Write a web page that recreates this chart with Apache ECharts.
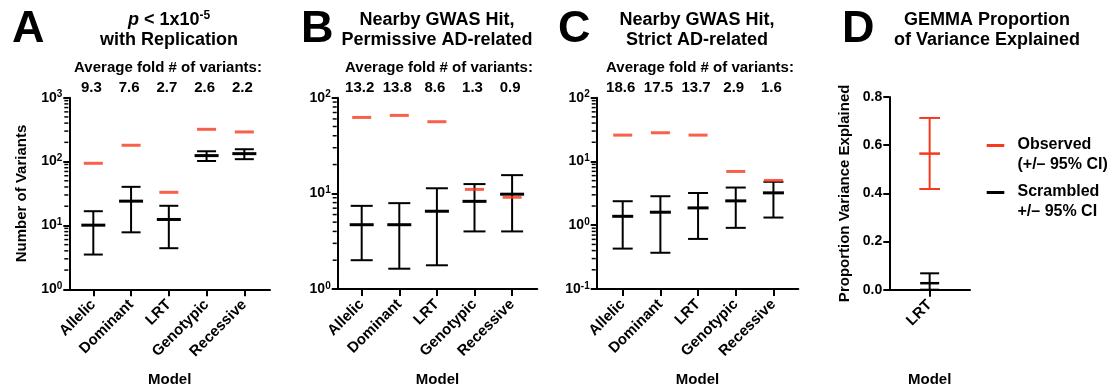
<!DOCTYPE html>
<html>
<head>
<meta charset="utf-8">
<script src="https://cdn.jsdelivr.net/npm/echarts@6/dist/echarts.min.js"></script>
<style>
  html, body { margin: 0; padding: 0; background: #fff; }
  #chart { width: 1109px; height: 389px; }
</style>
</head>
<body>
<div id="chart"></div>
<script>
// ---- data ----
const models = ['Allelic', 'Dominant', 'LRT', 'Genotypic', 'Recessive'];
const gemmaModels = ['LRT'];

// A: p < 1x10^-5 with replication
const observedA = [94, 180, 33, 320, 291];
const scrambledMeanA = [10.1, 24, 12.4, 124, 133];
const scrambledLowA = [3.5, 7.8, 4.4, 102, 109];
const scrambledHighA = [16.7, 40.2, 20.3, 145, 156];
const foldA = ['9.3', '7.6', '2.7', '2.6', '2.2'];

// B: nearby GWAS hit, permissive AD-related
const observedB = [62.2, 65.3, 56.1, 11.0, 9.1];
const scrambledMeanB = [4.7, 4.7, 6.5, 8.25, 9.8];
const scrambledLowB = [2.0, 1.63, 1.77, 4.0, 4.0];
const scrambledHighB = [7.4, 7.9, 11.3, 12.5, 15.5];
const foldB = ['13.2', '13.8', '8.6', '1.3', '0.9'];

// C: nearby GWAS hit, strict AD-related
const observedC = [25.9, 28.2, 25.9, 6.97, 5.04];
const scrambledMeanC = [1.38, 1.6, 1.87, 2.41, 3.22];
const scrambledLowC = [0.43, 0.37, 0.61, 0.91, 1.32];
const scrambledHighC = [2.38, 2.85, 3.2, 3.9, 4.8];
const foldC = ['18.6', '17.5', '13.7', '2.9', '1.6'];

// D: GEMMA proportion of variance explained
const observedMeanD = [0.565];
const observedLowD = [0.418];
const observedHighD = [0.713];
const scrambledMeanD = [0.027];
const scrambledLowD = [0];
const scrambledHighD = [0.068];

// axis ranges
const logRangeA = [1, 1000];
const logRangeB = [1, 100];
const logRangeC = [0.1, 100];
const pveRangeD = [0, 0.8];
const pveStepD = 0.2;

// ---- styling ----
const RED = '#F53A1F';
const BLACK = '#000';
const FONT = '"Liberation Sans", Arial, Helvetica, sans-serif';

const grids = [
  { left: 69.3, top: 97.7, width: 200.7, height: 191.6 },
  { left: 337.7, top: 97.7, width: 199.6, height: 191.3 },
  { left: 596.7, top: 97.7, width: 201.6, height: 191.3 },
  { left: 889.3, top: 97, width: 80.7, height: 192.7 }
];
const xRanges = [[-0.636, 4.68], [-0.638, 4.67], [-0.69, 4.66], [-1, 1]];

const supRich = {
  b: { fontSize: 14, fontWeight: 'bold', fontFamily: FONT, color: BLACK, lineHeight: 16 },
  s: { fontSize: 10, fontWeight: 'bold', fontFamily: FONT, color: BLACK, lineHeight: 10, verticalAlign: 'top' }
};

function xAxisFor(i, cats) {
  const idx = cats.map((_, k) => k);
  return {
    type: 'value', gridIndex: i, min: xRanges[i][0], max: xRanges[i][1],
    axisLine: { show: true, onZero: false, lineStyle: { color: BLACK, width: 2 } },
    axisTick: { show: true, customValues: idx, length: 7, lineStyle: { color: BLACK, width: 2 } },
    axisLabel: {
      customValues: idx, formatter: v => cats[Math.round(v)] || '',
      rotate: 45, margin: 13, fontSize: 15, fontWeight: 'bold', color: BLACK, fontFamily: FONT
    },
    splitLine: { show: false },
    name: 'Model', nameLocation: 'middle', nameGap: 83,
    nameTextStyle: { fontSize: 15, fontWeight: 'bold', color: BLACK, fontFamily: FONT }
  };
}

function logYAxisFor(i, range, name) {
  return {
    type: 'log', logBase: 10, gridIndex: i, min: range[0], max: range[1],
    axisLine: { show: true, onZero: false, lineStyle: { color: BLACK, width: 2 } },
    axisTick: { show: true, length: 6, lineStyle: { color: BLACK, width: 2 } },
    axisLabel: {
      margin: 7,
      formatter: v => '{b|10}{s|' + Math.round(Math.log10(v)) + '}',
      rich: supRich
    },
    splitLine: { show: false },
    name: name || '', nameLocation: 'middle', nameGap: 40, nameRotate: 90,
    nameTextStyle: { fontSize: 15, fontWeight: 'bold', color: BLACK, fontFamily: FONT }
  };
}

// error bar: vertical whisker, two caps, centre line
function errorBar(color, capW, meanW, meanLW) {
  return function (params, api) {
    const x = api.value(0);
    const pm = api.coord([x, api.value(1)]);
    const pl = api.coord([x, api.value(2)]);
    const ph = api.coord([x, api.value(3)]);
    const st = { stroke: color, lineWidth: 2 };
    return {
      type: 'group',
      children: [
        { type: 'line', shape: { x1: pl[0], y1: pl[1], x2: ph[0], y2: ph[1] }, style: st },
        { type: 'line', shape: { x1: pl[0] - capW / 2, y1: pl[1], x2: pl[0] + capW / 2, y2: pl[1] }, style: st },
        { type: 'line', shape: { x1: ph[0] - capW / 2, y1: ph[1], x2: ph[0] + capW / 2, y2: ph[1] }, style: st },
        { type: 'line', shape: { x1: pm[0] - meanW / 2, y1: pm[1], x2: pm[0] + meanW / 2, y2: pm[1] },
          style: { stroke: color, lineWidth: meanLW } }
      ]
    };
  };
}

function errorSeries(i, name, color, mean, low, high, capW, meanW, meanLW) {
  return {
    type: 'custom', name, xAxisIndex: i, yAxisIndex: i, clip: false, silent: true, z: 3,
    renderItem: errorBar(color, capW, meanW, meanLW),
    data: mean.map((m, k) => [k, m, low[k], high[k]])
  };
}

function observedSeries(i, values) {
  return {
    type: 'scatter', name: 'Observed', xAxisIndex: i, yAxisIndex: i, silent: true, z: 5,
    symbol: 'rect', symbolSize: [19, 3], itemStyle: { color: RED },
    data: values.map((v, k) => [k, v])
  };
}

// minor ticks at 2..9 x 10^k on the log axes
function minorTickSeries(i, range) {
  const vals = [];
  for (let e = Math.round(Math.log10(range[0])); e < Math.round(Math.log10(range[1])); e++) {
    for (let m = 2; m <= 9; m++) vals.push([xRanges[i][0], m * Math.pow(10, e)]);
  }
  return {
    type: 'custom', xAxisIndex: i, yAxisIndex: i, clip: false, silent: true, z: 2,
    renderItem: (params, api) => {
      const p = api.coord([api.value(0), api.value(1)]);
      return { type: 'line', shape: { x1: p[0] - 1, y1: p[1], x2: p[0] - 5, y2: p[1] },
        style: { stroke: BLACK, lineWidth: 1.5 } };
    },
    data: vals
  };
}

// fold-change row above each category
function foldSeries(i, folds, top) {
  return {
    type: 'custom', xAxisIndex: i, yAxisIndex: i, clip: false, silent: true,
    renderItem: (params, api) => {
      const p = api.coord([api.value(0), top]);
      return { type: 'text', x: p[0] - 2, y: p[1] - 9.5,
        style: { text: folds[params.dataIndex], align: 'center', verticalAlign: 'middle',
          font: 'bold 15px ' + FONT, fill: BLACK } };
    },
    data: folds.map((_, k) => [k, top])
  };
}

const titleFont = 'bold 18px ' + FONT;
function centered(x, y, text, font) {
  return { type: 'text', x, y, style: { text, align: 'center', verticalAlign: 'middle', font, fill: BLACK } };
}
function letter(x, text) {
  return { type: 'text', x, y: 30, style: { text, align: 'left', verticalAlign: 'middle',
    font: 'bold 45px ' + FONT, fill: BLACK } };
}

const graphic = [
  letter(12, 'A'), letter(301, 'B'), letter(558, 'C'), letter(842, 'D'),
  { type: 'text', x: 169, y: 20, style: {
      text: '{i|p}{n| < 1x10}{s|-5}', align: 'center', verticalAlign: 'middle',
      rich: {
        i: { font: 'italic bold 18px ' + FONT, fill: BLACK, lineHeight: 20 },
        n: { font: titleFont, fill: BLACK, lineHeight: 20 },
        s: { font: 'bold 12px ' + FONT, fill: BLACK, lineHeight: 12, verticalAlign: 'top' }
      } } },
  centered(169, 40, 'with Replication', titleFont),
  centered(437, 20, 'Nearby GWAS Hit,', titleFont),
  centered(437, 40, 'Permissive AD-related', titleFont),
  centered(697, 20, 'Nearby GWAS Hit,', titleFont),
  centered(697, 40, 'Strict AD-related', titleFont),
  centered(987, 20, 'GEMMA Proportion', titleFont),
  centered(987, 40, 'of Variance Explained', titleFont),
  centered(168, 68, 'Average fold # of variants:', 'bold 15px ' + FONT),
  centered(439, 68, 'Average fold # of variants:', 'bold 15px ' + FONT),
  centered(700, 68, 'Average fold # of variants:', 'bold 15px ' + FONT),
  // legend
  { type: 'rect', shape: { x: 986.7, y: 144, width: 17.6, height: 3 }, style: { fill: RED } },
  { type: 'text', x: 1017.5, y: 145, style: { text: 'Observed', verticalAlign: 'middle', font: 'bold 16px ' + FONT, fill: BLACK } },
  { type: 'text', x: 1017.5, y: 164.3, style: { text: '(+/\u2013 95% CI)', verticalAlign: 'middle', font: 'bold 16px ' + FONT, fill: BLACK } },
  { type: 'rect', shape: { x: 986.7, y: 191, width: 17.6, height: 3 }, style: { fill: BLACK } },
  { type: 'text', x: 1017.5, y: 192, style: { text: 'Scrambled', verticalAlign: 'middle', font: 'bold 16px ' + FONT, fill: BLACK } },
  { type: 'text', x: 1017.5, y: 211.7, style: { text: '+/\u2013 95% CI', verticalAlign: 'middle', font: 'bold 16px ' + FONT, fill: BLACK } }
];

const option = {
  animation: false,
  backgroundColor: '#fff',
  grid: grids,
  xAxis: [xAxisFor(0, models), xAxisFor(1, models), xAxisFor(2, models), xAxisFor(3, gemmaModels)],
  yAxis: [
    logYAxisFor(0, logRangeA, 'Number of Variants'),
    logYAxisFor(1, logRangeB),
    logYAxisFor(2, logRangeC),
    {
      type: 'value', gridIndex: 3, min: pveRangeD[0], max: pveRangeD[1], interval: pveStepD,
      axisLine: { show: true, onZero: false, lineStyle: { color: BLACK, width: 2 } },
      axisTick: { show: true, length: 6, lineStyle: { color: BLACK, width: 2 } },
      axisLabel: { margin: 7, formatter: v => v.toFixed(1), fontSize: 14, fontWeight: 'bold',
        color: BLACK, fontFamily: FONT },
      splitLine: { show: false },
      name: 'Proportion Variance Explained', nameLocation: 'middle', nameGap: 37, nameRotate: 90,
      nameTextStyle: { fontSize: 15, fontWeight: 'bold', color: BLACK, fontFamily: FONT }
    }
  ],
  graphic,
  series: [
    minorTickSeries(0, logRangeA),
    minorTickSeries(1, logRangeB),
    minorTickSeries(2, logRangeC),
    errorSeries(0, 'Scrambled', BLACK, scrambledMeanA, scrambledLowA, scrambledHighA, 19, 24, 3),
    errorSeries(1, 'Scrambled', BLACK, scrambledMeanB, scrambledLowB, scrambledHighB, 22, 24, 3),
    errorSeries(2, 'Scrambled', BLACK, scrambledMeanC, scrambledLowC, scrambledHighC, 20, 21, 3),
    observedSeries(0, observedA),
    observedSeries(1, observedB),
    observedSeries(2, observedC),
    errorSeries(3, 'Scrambled', BLACK, scrambledMeanD, scrambledLowD, scrambledHighD, 19, 19, 2.5),
    errorSeries(3, 'Observed', RED, observedMeanD, observedLowD, observedHighD, 20.7, 20.7, 2.5),
    foldSeries(0, foldA, logRangeA[1]),
    foldSeries(1, foldB, logRangeB[1]),
    foldSeries(2, foldC, logRangeC[1])
  ]
};

const chart = echarts.init(document.getElementById('chart'), null, { renderer: 'canvas' });
chart.setOption(option);
</script>
</body>
</html>
